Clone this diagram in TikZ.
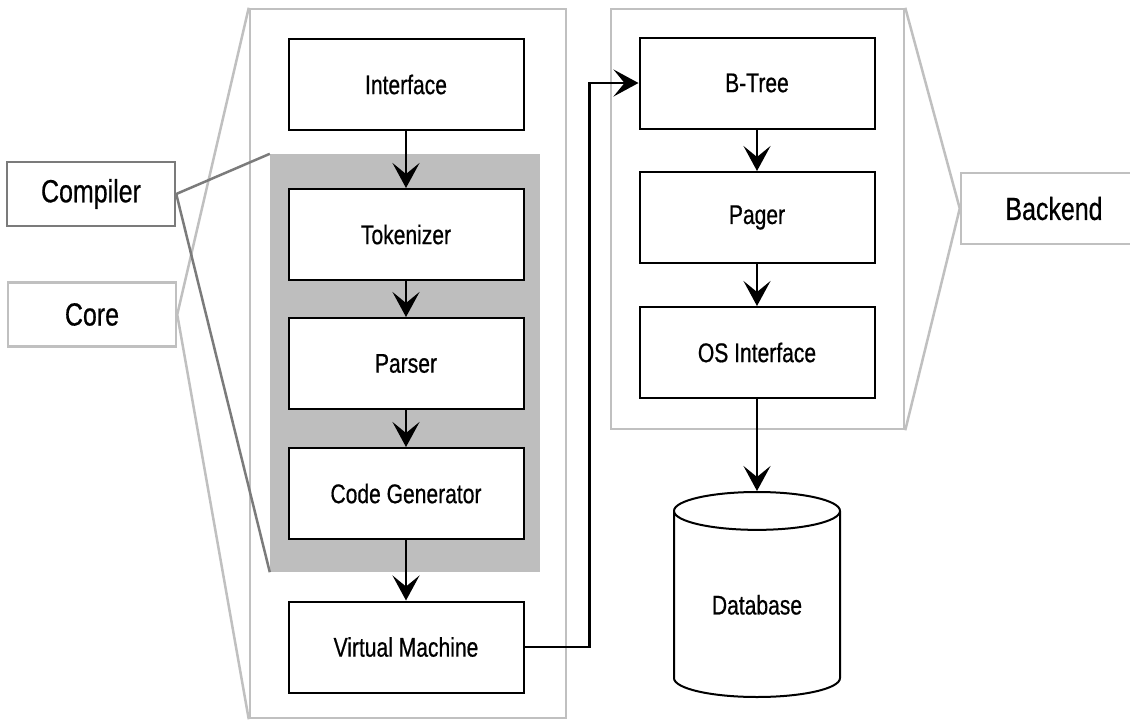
\documentclass[tikz,border=0pt]{standalone}
\usepackage{fontspec}
\setmainfont{Liberation Sans}[FakeStretch=0.78, FakeBold=0.6]
\usetikzlibrary{arrows.meta,shapes.geometric}
\definecolor{lightline}{HTML}{C0C0C0}
\definecolor{darkline}{HTML}{7B7B7B}
\definecolor{stagefill}{HTML}{BEBEBE}

\begin{document}
\begin{tikzpicture}[x=1pt, y=-1pt,
    block/.style={draw, line width=2pt, fill=white, minimum width=235pt,
      minimum height=91pt, inner sep=0pt, font=\fontsize{27}{31}\selectfont},
    tagbox/.style={draw, line width=2.5pt, fill=white, minimum height=64pt,
      inner sep=0pt, font=\fontsize{32}{37}\selectfont},
    region/.style={draw=lightline, line width=2.5pt, inner sep=0pt},
    flow/.style={line width=2.6pt, -{Stealth[length=25pt, width=27pt, inset=11pt]}}]
      \useasboundingbox (0, 0) rectangle (1130, 720);
      % outer frames
      \node[region, minimum width=316pt, minimum height=709pt] (core) at (408, 363.5) {};
      \node[region, minimum width=293pt, minimum height=420pt] (backend) at (757.5, 219) {};
      \node[fill=stagefill, inner sep=0pt, minimum width=270pt, minimum height=418pt] (stage) at (405, 363) {};
      % tags on the sides
      \node[tagbox, draw=darkline, minimum width=168pt] (compiler) at (91, 194) {Compiler};
      \node[tagbox, draw=lightline, minimum width=168pt] (coretag) at (92, 314.5) {Core};
      \node[tagbox, draw=lightline, minimum width=186pt, minimum height=71pt] (backendtag) at (1054, 208.5) {Backend};
      \draw[lightline, line width=2.5pt] (core.north west) -- (coretag.east) -- (core.south west);
      \draw[darkline, line width=2.5pt] (stage.north west) -- (compiler.east) -- (stage.south west);
      \draw[lightline, line width=2.5pt] (backend.north east) -- (backendtag.west) -- (backend.south east);
      % core column
      \node[block] (iface) at (406, 84.5) {Interface};
      \node[block] (tok) at (406, 234.5) {Tokenizer};
      \node[block] (parser) at (406, 363.5) {Parser};
      \node[block] (codegen) at (406, 493.5) {Code Generator};
      \node[block] (vm) at (406, 647) {Virtual Machine};
      % backend column
      \node[block] (btree) at (757, 83) {B-Tree};
      \node[block] (pager) at (757, 217.5) {Pager};
      \node[block] (osif) at (757, 352.5) {OS Interface};
      \node[cylinder, shape border rotate=90, draw, line width=2pt, fill=white,
        minimum width=166pt, minimum height=205pt, shape aspect=0.42, inner sep=0pt,
        text height=20pt, text depth=0pt, anchor=top,
        font=\fontsize{27}{31}\selectfont] (db) at (757, 491) {Database};
      \draw[flow] (iface) -- (tok);
      \draw[flow] (tok) -- (parser);
      \draw[flow] (parser) -- (codegen);
      \draw[flow] (codegen) -- (vm);
      \draw[flow] (vm.east) -- ++(65, 0) |- (btree.west);
      \draw[flow] (btree) -- (pager);
      \draw[flow] (pager) -- (osif);
      \draw[flow] (osif) -- (db.top);
    \end{tikzpicture}
\end{document}
